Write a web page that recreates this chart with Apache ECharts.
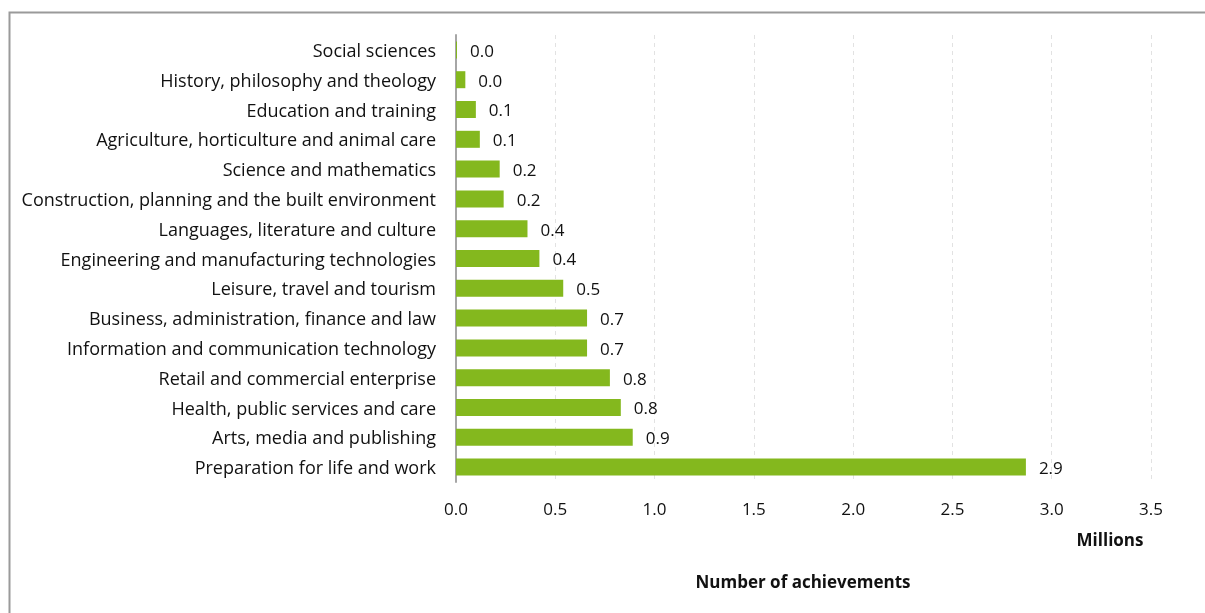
<!DOCTYPE html>
<html>
<head>
<meta charset="utf-8">
<script src="https://cdn.jsdelivr.net/npm/echarts@6/dist/echarts.min.js"></script>
<style>html,body{margin:0;padding:0;background:#fff;}#c{width:1205px;height:613px;}</style>
</head>
<body>
<div id="c"></div>
<script>
const categories = [
  "Preparation for life and work",
  "Arts, media and publishing",
  "Health, public services and care",
  "Retail and commercial enterprise",
  "Information and communication technology",
  "Business, administration, finance and law",
  "Leisure, travel and tourism",
  "Engineering and manufacturing technologies",
  "Languages, literature and culture",
  "Construction, planning and the built environment",
  "Science and mathematics",
  "Agriculture, horticulture and animal care",
  "Education and training",
  "History, philosophy and theology",
  "Social sciences"
];
const achievements = [2.87, 0.89, 0.83, 0.775, 0.66, 0.66, 0.54, 0.42, 0.36, 0.24, 0.22, 0.12, 0.10, 0.047, 0.005];
const xTicks = [0, 0.5, 1, 1.5, 2, 2.5, 3, 3.5];

const chart = echarts.init(document.getElementById('c'));
const font = 'Open Sans';
chart.setOption({
  animation: false,
  textStyle: { fontFamily: font },
  graphic: [{
    type: 'rect',
    shape: { x: 9.5, y: 12.5, width: 1300, height: 700 },
    style: { fill: 'none', stroke: '#9a9a9a', lineWidth: 2 },
    silent: true
  }, {
    type: 'text', x: 1110, y: 541,
    style: { text: 'Millions', font: 'bold 17px "Open Sans"', fill: '#111', align: 'center', verticalAlign: 'middle' }
  }, {
    type: 'text', x: 803, y: 583,
    style: { text: 'Number of achievements', font: 'bold 17px "Open Sans"', fill: '#111', align: 'center', verticalAlign: 'middle' }
  }],
  grid: { left: 456, right: 54, top: 35, bottom: 131, containLabel: false },
  xAxis: {
    type: 'value', min: 0, max: 3.5, interval: 0.5,
    axisLine: { show: false }, axisTick: { show: false },
    axisLabel: { color: '#111', fontSize: 17, margin: 20,
      formatter: v => xTicks.includes(v) ? v.toFixed(1) : '' },
    splitLine: { show: true, lineStyle: { color: '#e2e2e2', type: [4, 4], width: 1 } }
  },
  yAxis: {
    type: 'category', data: categories,
    axisLine: { show: true, lineStyle: { color: '#a6a6a6', width: 2 } },
    axisTick: { show: false },
    axisLabel: { color: '#111', fontSize: 18, margin: 20,
      formatter: v => '{a|' + v + '}',
      rich: { a: { fontSize: 18, color: '#111', fontFamily: font, padding: [4, 0, 0, 0] } } }
  },
  series: [{
    type: 'bar', data: achievements, barWidth: 17,
    itemStyle: { color: '#84B81E' },
    label: { show: true, position: 'right', distance: 13, color: '#111', fontSize: 17,
      offset: [0, 2],
      formatter: p => p.value.toFixed(1) }
  }]
});
</script>
</body>
</html>
